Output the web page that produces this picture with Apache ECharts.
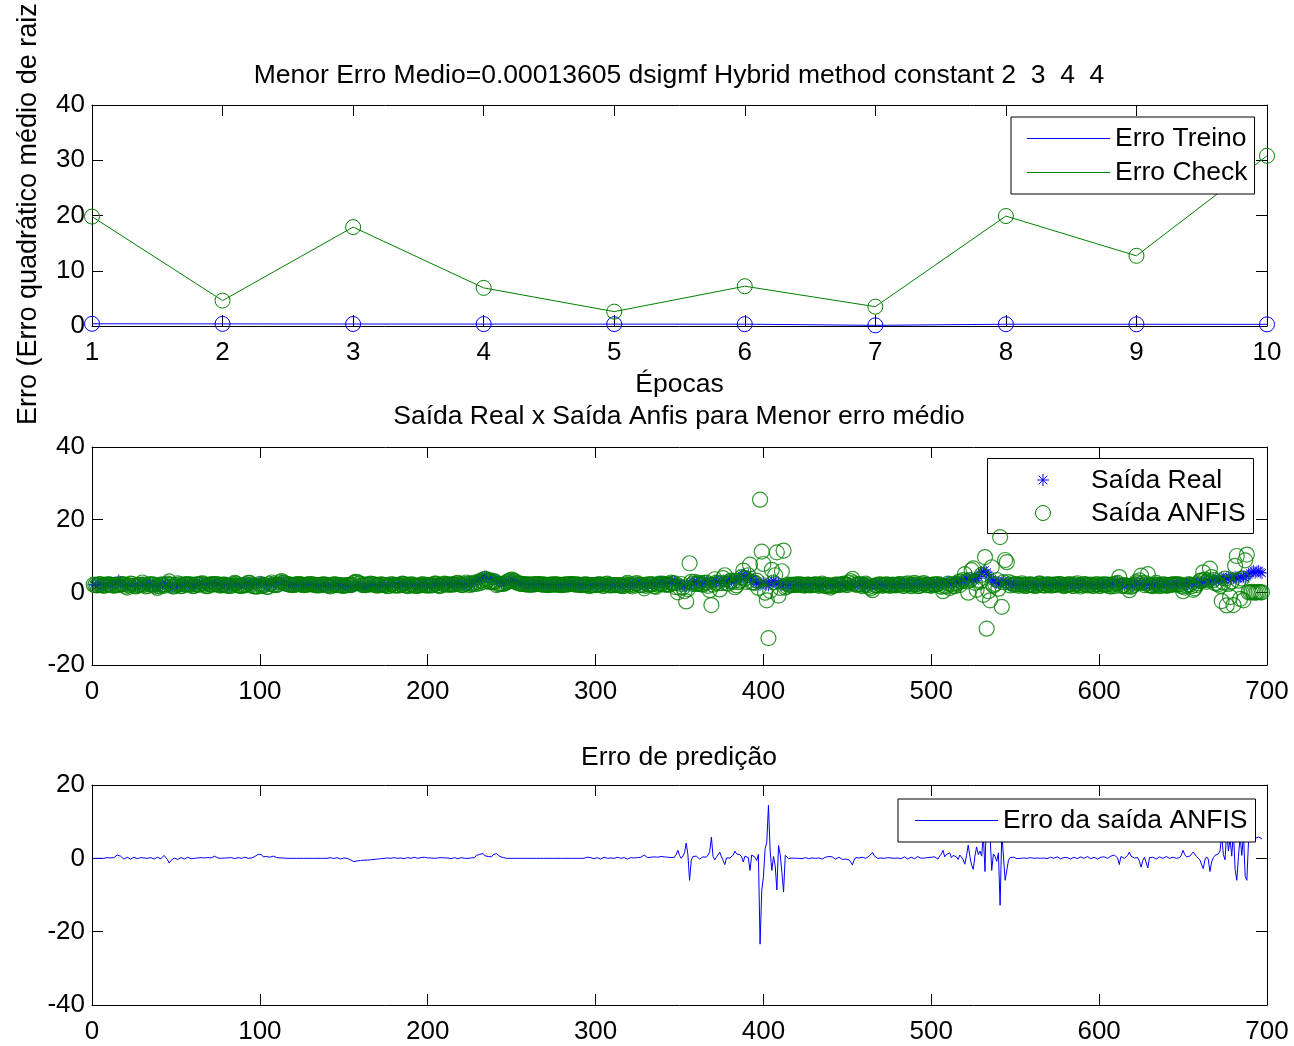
<!DOCTYPE html>
<html>
<head>
<meta charset="utf-8">
<title>Erro ANFIS</title>
<script src="https://cdn.jsdelivr.net/npm/echarts@6/dist/echarts.min.js"></script>
<style>
  html, body { margin: 0; padding: 0; background: #fff; }
  #main { width: 1294px; height: 1046px; }
</style>
</head>
<body>
<div id="main"></div>
<script>
// ---- dados ----
var epocas = [1, 2, 3, 4, 5, 6, 7, 8, 9, 10];
var erroTreino = [0.40, 0.38, 0.36, 0.35, 0.34, 0.33, 0.12, 0.32, 0.31, 0.30];
var erroCheck = [19.8, 4.6, 17.9, 6.9, 2.6, 7.2, 3.5, 19.9, 12.7, 30.8];

// saida real (amostras 1..697)
var saidaReal = [
2.1,2.0,1.9,2.2,2.3,2.0,1.8,1.9,2.4,2.6,2.2,1.9,2.0,2.5,2.9,3.3,2.8,2.3,2.0,1.7,
1.6,1.9,2.2,2.4,2.1,1.8,1.7,2.0,2.3,2.5,2.2,1.9,1.8,2.1,2.4,2.2,1.9,1.6,1.5,1.8,
2.0,2.3,2.6,2.4,2.0,1.7,1.5,1.4,1.7,2.0,2.2,2.1,1.9,1.8,2.0,2.3,2.5,2.3,2.0,1.9,
1.8,2.0,2.2,2.4,2.6,2.5,2.2,2.0,1.9,2.1,2.3,2.6,2.8,2.6,2.3,2.1,1.9,2.0,2.2,2.1,
1.9,1.8,2.0,2.3,2.5,2.4,2.1,1.9,1.8,2.0,2.2,2.4,2.6,2.5,2.2,2.0,2.1,2.4,2.7,2.9,
2.8,2.5,2.2,2.0,2.3,2.6,2.8,2.7,2.4,2.2,2.5,2.9,3.1,2.8,2.5,2.3,2.2,2.1,2.0,2.0,
2.1,2.2,2.3,2.2,2.1,2.0,2.0,2.1,2.2,2.3,2.2,2.1,2.0,1.9,1.9,2.0,2.1,2.2,2.1,2.0,
1.9,1.8,1.9,2.1,2.3,2.2,2.0,1.8,1.7,1.9,2.1,2.0,1.8,1.6,1.5,1.7,1.9,2.1,2.0,1.8,
1.6,1.5,1.4,1.6,1.8,2.0,2.1,1.9,1.8,1.7,1.9,2.1,2.2,2.0,1.9,1.8,2.0,2.2,2.3,2.1,
2.0,1.9,2.1,2.3,2.4,2.2,2.0,1.9,2.0,2.2,2.3,2.1,1.9,1.8,2.0,2.2,2.4,2.3,2.1,2.0,
1.9,2.0,2.2,2.4,2.3,2.1,2.0,2.1,2.3,2.5,2.4,2.2,2.1,2.0,2.2,2.4,2.6,2.5,2.3,2.2,
2.1,2.3,2.5,2.4,2.3,2.5,2.7,2.9,3.1,3.3,3.6,3.9,4.2,4.4,4.3,4.0,3.7,3.5,3.8,3.6,
3.3,3.0,2.8,2.6,2.5,2.6,2.8,3.0,3.3,3.5,3.3,3.0,2.7,2.5,2.4,2.3,2.3,2.2,2.2,2.1,
2.1,2.1,2.2,2.2,2.3,2.3,2.2,2.2,2.1,2.1,2.0,2.0,2.1,2.1,2.2,2.2,2.1,2.1,2.0,2.0,
2.1,2.1,2.2,2.2,2.3,2.3,2.2,2.2,2.1,2.1,2.0,2.0,2.1,2.2,2.4,2.3,2.1,2.0,1.9,2.1,
2.3,2.2,2.0,1.9,2.1,2.3,2.4,2.2,2.0,1.9,2.0,2.2,2.3,2.1,1.9,1.8,2.0,2.2,2.4,2.3,
2.1,2.0,2.2,2.5,2.7,2.6,2.3,2.1,2.0,2.2,2.4,2.6,2.5,2.3,2.1,2.2,2.4,2.6,2.8,2.7,
2.5,2.3,2.4,2.6,2.9,3.1,2.8,2.4,2.2,2.1,2.3,2.0,1.8,1.7,1.9,2.0,2.4,2.8,3.1,2.9,
2.6,2.4,2.3,2.5,2.8,3.0,2.7,2.4,2.3,2.6,3.2,3.0,2.7,2.5,2.9,3.3,3.0,2.6,2.8,3.2,
3.5,3.8,3.4,3.1,3.6,4.2,4.6,5.0,4.4,3.8,4.9,4.3,3.6,3.2,2.9,2.6,2.3,2.1,2.4,2.8,
2.5,2.2,1.9,2.4,2.9,3.2,2.7,2.4,2.6,2.2,2.0,2.3,2.1,1.9,2.0,2.2,2.1,1.9,2.0,2.2,
2.3,2.1,2.0,1.9,2.1,2.2,2.0,1.9,2.1,2.3,2.2,2.0,1.9,2.0,2.2,2.1,2.0,2.2,2.4,2.3,
2.1,2.0,1.9,2.1,2.3,2.2,2.0,1.8,1.9,2.1,2.2,2.1,1.9,2.0,2.3,2.5,2.3,2.1,2.0,2.2,
2.4,2.3,2.1,2.0,2.2,2.3,2.1,1.9,2.0,2.2,2.1,2.0,2.1,2.3,2.2,2.0,1.9,2.0,2.1,2.2,
2.3,2.1,2.0,2.2,2.4,2.3,2.1,2.0,2.2,2.5,2.4,2.2,2.0,2.1,2.3,2.6,2.4,2.2,2.0,2.1,
2.3,2.5,2.3,2.1,2.4,2.7,2.5,2.2,2.6,2.9,2.7,2.4,2.6,3.0,2.8,2.5,2.9,3.3,3.0,3.4,
3.8,3.5,3.9,4.3,3.6,3.2,3.8,4.4,4.9,5.4,5.8,6.1,5.5,4.8,4.2,3.6,3.1,2.8,2.6,2.5,
2.4,2.8,3.2,2.9,2.6,2.3,2.1,2.2,2.4,2.3,2.1,2.0,2.1,2.3,2.2,2.0,1.9,2.1,2.3,2.2,
2.0,1.9,2.1,2.3,2.4,2.2,2.0,1.9,2.1,2.3,2.2,2.0,2.1,2.3,2.5,2.4,2.2,2.0,1.9,2.1,
2.3,2.2,2.0,1.9,2.1,2.3,2.4,2.2,2.0,2.1,2.3,2.5,2.4,2.2,2.0,1.9,2.1,2.2,2.0,1.9,
2.1,2.3,2.5,2.3,2.1,2.0,2.2,2.4,2.6,2.8,2.7,2.5,2.3,2.1,2.0,2.2,2.4,2.3,2.1,2.0,
2.2,2.5,2.7,2.5,2.2,2.0,2.3,2.6,2.4,2.1,1.9,2.0,2.2,2.4,2.3,2.1,2.0,2.2,2.4,2.3,
2.1,2.0,2.2,2.5,2.4,2.2,2.1,2.3,2.6,2.5,2.3,2.2,2.4,2.7,2.6,2.4,2.3,2.5,2.8,2.7,
2.5,2.7,3.0,3.3,3.1,2.9,3.2,3.6,3.3,3.0,3.4,3.8,4.1,3.7,3.4,3.9,4.3,4.0,3.6,3.9,
4.3,4.0,3.7,4.2,4.6,4.3,3.9,4.4,4.8,5.2,5.6,5.9,5.4,5.7,5.9,5.5,5.3
];

// saida ANFIS (amostras 1..697)
var saidaAnfis = [
2.1,2.0,1.9,2.2,2.3,2.0,1.8,1.9,2.2,2.2,2.1,2.0,1.8,2.0,2.0,2.1,2.2,2.2,2.2,1.6,
1.3,1.9,2.4,2.3,1.8,1.6,1.8,2.0,2.1,2.7,2.1,1.6,1.8,2.2,2.2,2.1,2.1,1.6,1.2,1.7,
2.1,2.1,1.8,2.1,2.4,3.0,2.1,1.6,1.6,2.0,2.5,2.2,1.7,1.8,2.2,2.2,2.2,2.2,2.1,1.7,
1.8,2.2,2.1,2.1,2.4,2.5,2.1,1.7,1.7,2.1,2.2,2.2,2.2,2.3,2.2,1.9,1.9,2.1,2.1,1.9,
1.8,1.8,1.8,2.2,2.6,2.4,1.9,1.8,1.8,1.9,1.9,2.2,2.6,2.6,2.1,1.7,1.6,1.6,1.6,2.3,
1.8,2.1,2.0,1.5,1.5,2.3,2.7,2.1,2.0,2.0,2.2,2.8,3.1,2.7,2.5,2.3,2.2,2.1,2.0,2.0,
2.1,2.2,2.3,2.2,2.1,2.0,2.0,2.1,2.2,2.3,2.2,2.1,2.0,1.9,1.9,2.0,2.1,2.2,2.1,2.0,
1.8,1.6,1.9,2.2,2.2,2.0,2.0,2.0,1.8,1.8,1.9,2.0,2.0,2.0,2.1,2.6,2.9,2.8,2.5,2.4,
2.0,2.0,2.1,2.1,2.1,2.4,2.3,2.2,1.9,1.9,1.9,2.2,2.1,2.0,2.0,1.7,1.8,2.2,2.2,1.9,
1.9,1.9,1.9,2.2,2.4,2.3,1.9,1.7,1.9,2.2,2.1,1.8,1.8,1.8,1.9,2.0,2.3,2.0,1.9,1.9,
1.9,1.9,2.0,2.4,2.4,2.0,1.7,1.9,2.3,2.4,2.2,2.1,2.1,2.1,2.2,2.2,2.5,2.6,2.3,2.0,
2.0,2.3,2.7,2.4,2.0,2.4,2.2,2.7,2.3,2.9,2.5,3.3,2.9,3.7,3.1,3.5,2.8,3.1,2.8,3.0,
2.0,2.2,2.3,2.3,2.3,2.5,2.8,3.0,3.3,3.5,3.3,3.0,2.7,2.5,2.4,2.3,2.3,2.2,2.2,2.1,
2.1,2.1,2.2,2.2,2.3,2.3,2.2,2.2,2.1,2.1,2.0,2.0,2.1,2.1,2.2,2.2,2.1,2.1,2.0,2.0,
2.1,2.1,2.2,2.2,2.3,2.3,2.2,2.2,2.1,2.1,2.0,2.0,2.1,2.2,2.1,1.7,1.9,2.0,2.0,2.0,
2.1,2.2,2.2,1.8,1.8,2.2,2.4,2.0,1.9,2.0,2.0,2.0,2.0,2.0,1.9,1.7,1.8,2.2,2.6,2.2,
1.9,1.6,2.1,2.5,2.5,2.0,2.0,2.0,1.1,1.8,2.2,2.1,2.2,2.2,1.7,1.5,2.1,2.4,2.3,2.4,
2.1,2.2,2.1,2.1,2.7,2.5,2.5,1.4,0.0,1.3,2.3,1.4,0.3,-2.5,0.9,8.0,2.9,2.3,2.9,2.3,
2.3,2.6,2.2,2.1,2.6,2.7,1.8,0.6,-3.5,2.1,3.6,2.7,2.5,0.8,2.5,3.9,4.7,2.5,2.4,3.1,
3.2,2.9,1.4,1.9,2.8,3.2,4.2,6.0,3.8,2.9,4.7,7.6,2.7,2.7,2.6,3.2,1.2,25.5,11.2,7.8,
-0.1,-2.2,-12.6,0.4,6.2,2.7,4.7,11.0,-0.9,1.2,5.8,11.5,1.3,1.6,2.1,2.0,2.0,2.1,2.0,2.1,
2.3,2.0,2.1,1.9,1.9,2.1,2.1,1.9,2.0,2.1,2.2,2.1,1.8,2.0,2.4,2.0,1.7,2.0,1.9,1.3,
1.7,1.9,2.1,2.1,2.0,2.1,2.3,2.4,2.1,2.0,2.6,3.1,3.7,2.5,2.1,2.1,2.2,2.2,1.7,2.0,
2.4,2.0,1.5,1.1,0.6,1.6,1.9,1.9,2.2,2.1,1.8,2.0,2.2,2.1,1.8,1.9,2.1,2.0,1.9,2.1,
2.3,2.2,1.8,1.8,2.3,2.5,2.1,1.7,2.1,2.6,2.2,1.7,1.8,2.1,2.5,2.5,2.0,2.0,2.0,1.8,
2.1,2.1,2.2,2.3,1.8,1.5,0.3,1.8,1.6,2.4,1.2,2.2,1.8,1.7,2.4,2.8,2.0,3.0,3.4,5.0,
3.0,-0.1,3.4,6.1,6.6,2.6,0.7,3.4,2.9,4.8,-0.7,9.7,-10.0,0.3,-2.2,6.9,1.9,2.3,3.4,1.0,
15.2,-4.0,2.8,8.9,8.3,2.8,1.9,2.5,2.1,2.2,2.2,1.8,2.1,2.5,2.1,1.7,1.9,2.2,2.1,2.1,
2.0,1.7,2.0,2.4,2.4,2.0,1.9,1.9,2.2,2.2,1.9,1.9,2.1,2.1,2.1,2.3,2.3,2.0,1.7,2.0,
2.1,2.2,2.2,1.8,1.8,2.2,2.5,2.0,1.6,2.0,2.3,2.2,1.9,2.0,2.1,1.8,1.8,2.2,2.2,1.8,
1.8,2.2,2.1,2.1,2.1,1.7,1.6,2.2,1.7,2.4,2.6,4.2,1.8,1.9,2.0,1.8,1.6,0.6,1.5,1.8,
2.1,2.8,2.5,3.3,4.6,2.6,2.0,2.5,5.0,1.9,1.9,1.7,2.1,2.6,2.1,1.7,1.9,2.2,2.1,1.8,
1.9,2.0,2.1,2.2,2.2,2.2,2.2,2.1,1.7,0.3,1.3,1.8,2.2,2.1,1.7,0.7,1.1,2.0,2.5,3.1,
3.3,5.5,3.5,2.9,3.3,6.5,4.2,3.4,2.5,2.6,2.2,1.8,-2.4,2.7,3.8,-3.6,2.3,-1.3,3.0,-3.5,
7.3,10.0,3.2,-1.8,3.8,-2.2,8.8,10.4,0.0,0.0,0.1,0.0,-0.1,0.0,0.1,0.0,0.0
];

// erro de predicao (amostras 1..697)
var erroPredicao = [
0,0,0,0,0,0,0,0,0.2,0.4,0.1,-0.1,0.2,0.5,0.9,1.2,0.6,0.1,-0.2,0.1,
0.3,0.0,-0.2,0.1,0.3,0.2,-0.1,0.0,0.2,-0.2,0.1,0.3,0.0,-0.1,0.2,0.1,-0.2,0.0,0.3,0.1,
-0.1,0.2,0.8,0.3,-0.4,-1.3,-0.6,-0.2,0.1,0.0,-0.3,-0.1,0.2,0.0,-0.2,0.1,0.3,0.1,-0.1,0.2,
0.0,-0.2,0.1,0.3,0.2,0.0,0.1,0.3,0.2,0.0,0.1,0.4,0.6,0.3,0.1,0.2,0.0,-0.1,0.1,0.2,
0.1,0.0,0.2,0.1,-0.1,0.0,0.2,0.1,0.0,0.1,0.3,0.2,0.0,-0.1,0.1,0.3,0.5,0.8,1.1,0.6,
1.0,0.4,0.2,0.5,0.8,0.3,0.1,0.6,0.4,0.2,0.3,0.1,0.0,0.1,0.0,0,0,0,0,0,
0,0,0,0,0,0,0,0,0,0,0,0,0,0,0,0,0,0,0,0,
0.1,0.2,0.0,-0.1,0.1,0.2,0.0,-0.2,-0.1,0.1,0.2,0.0,-0.2,-0.4,-0.6,-0.9,-1.0,-0.7,-0.5,-0.6,
-0.4,-0.5,-0.7,-0.5,-0.3,-0.4,-0.2,-0.3,-0.1,-0.2,0.0,-0.1,0.1,0.0,-0.1,0.1,0.2,0.0,0.1,0.2,
0.1,0.0,0.2,0.1,0.0,-0.1,0.1,0.2,0.1,0.0,0.2,0.3,0.1,0.0,0.1,0.2,0.1,0.3,0.2,0.1,
0.0,0.1,0.2,0.0,-0.1,0.1,0.3,0.2,0.0,0.1,0.2,0.1,0.0,-0.1,0.0,0.2,0.1,-0.1,0.0,0.2,
0.1,0.0,-0.2,0.0,0.3,0.1,0.5,0.2,0.8,0.4,1.1,0.6,1.3,0.7,1.2,0.5,0.9,0.4,1.0,0.6,
1.3,0.8,0.5,0.3,0.2,0.1,0,0,0,0,0,0,0,0,0,0,0,0,0,0,
0,0,0,0,0,0,0,0,0,0,0,0,0,0,0,0,0,0,0,0,
0,0,0,0,0,0,0,0,0,0,0,0,0,0,0.3,0.6,0.2,0.0,-0.1,0.1,
0.2,0.0,-0.2,0.1,0.3,0.1,0.0,0.2,0.1,-0.1,0.0,0.2,0.3,0.1,0.0,0.1,0.2,0.0,-0.2,0.1,
0.2,0.4,0.1,0.0,0.2,0.6,0.3,0.1,0.9,0.4,0.2,0.5,0.3,0.1,0.4,0.7,0.3,0.2,0.5,0.3,
0.4,0.1,0.3,0.5,0.2,0.6,0.3,1.0,2.2,0.8,0.0,0.6,1.5,4.2,1.0,-6.0,-0.5,0.5,0.2,0.6,
0.3,-0.2,0.1,0.4,0.2,0.3,0.9,1.8,5.8,0.5,-0.4,0.3,0.2,1.7,0.4,-0.6,-1.7,0.1,0.4,0.1,
0.3,0.9,2.0,1.2,0.8,1.0,0.4,-1.0,0.6,0.9,0.2,-3.3,0.9,0.5,0.3,-0.6,1.1,-23.4,-8.8,-5.0,
2.6,4.4,14.5,2.0,-3.3,0.5,-2.0,-8.6,3.5,1.0,-3.8,-9.2,0.8,0.3,-0.1,0.2,0.1,-0.2,0.0,0.1,
0.0,0.1,-0.1,0.0,0.2,0.1,-0.1,0.0,0.1,0.2,0.0,-0.1,0.1,0.0,-0.2,0.1,0.3,0.2,0.5,1.0,
0.4,0.1,-0.2,0.0,0.3,0.1,-0.3,-0.6,-0.2,0.1,-0.4,-1.0,-1.8,-0.5,0.2,0.4,0.1,-0.1,0.3,0.2,
0.0,0.3,0.6,0.9,1.6,0.7,0.2,0.0,-0.2,0.1,0.3,0.0,-0.1,0.2,0.4,0.1,-0.2,0.0,0.2,0.1,
0.0,-0.1,0.2,0.4,0.1,-0.2,0.0,0.3,0.1,-0.1,0.2,0.5,0.2,0.0,-0.2,0.1,0.4,0.2,0.0,0.3,
0.2,0.4,0.1,-0.2,0.6,1.2,2.2,0.4,1.0,0.5,1.5,0.2,0.8,1.3,0.4,-0.3,0.9,0.3,-0.4,-1.6,
0.8,3.6,0.5,-1.8,-3.0,0.6,3.1,1.0,2.0,0.6,6.5,-3.6,15.5,4.5,6.4,-3.3,1.2,0.5,-0.8,1.5,
-12.8,6.8,0.4,-6.0,-5.7,-0.5,0.2,-0.3,0.3,0.1,-0.1,0.2,0.0,-0.2,0.1,0.3,0.0,-0.1,0.2,0.1,
0.0,0.2,0.1,-0.1,0.0,0.2,0.1,0.0,-0.1,0.1,0.3,0.1,0.0,0.2,0.4,0.1,-0.1,0.0,0.2,0.1,
0.2,0.0,-0.2,0.1,0.3,0.1,-0.1,0.2,0.4,0.1,0.0,0.3,0.5,0.2,-0.1,0.1,0.3,0.0,-0.2,0.1,
0.3,0.1,0.4,0.2,0.0,0.3,0.6,0.2,0.9,0.4,0.1,-1.7,0.5,0.2,0.0,0.4,0.8,1.7,0.6,0.2,
0.1,-0.3,0.2,-0.8,-2.4,-0.6,0.3,0.1,-2.6,0.2,0.0,0.3,0.1,-0.2,0.2,0.4,0.1,0.0,0.3,0.5,
0.2,0.0,0.1,0.3,0.2,0.0,-0.1,0.2,0.9,2.2,1.0,0.4,0.2,0.6,0.9,1.7,1.2,0.5,0.3,-0.4,
-0.8,-2.8,-0.5,0.4,-0.2,-3.6,-1.0,0.2,0.8,0.4,1.2,2.0,6.5,1.0,-0.4,7.5,2.0,5.3,0.6,7.4,
-3.0,-6.0,0.5,6.0,0.8,6.5,-4.9,-6.0,4.8,5.2,5.5,5.9,5.5,5.7,5.8,5.5,5.3
];

var titulos = [
  'Menor Erro Medio=0.00013605 dsigmf Hybrid method constant 2  3  4  4',
  'Saída Real x Saída Anfis para Menor erro médio',
  'Erro de predição'
];

var FONTE = '"Liberation Sans", Arial, Helvetica, sans-serif';
var AZUL = '#0000ff';
var VERDE = '#008000';
var ASTERISCO = 'path://M0,5L10,5M5,0L5,10M1.5,1.5L8.5,8.5M8.5,1.5L1.5,8.5';

function pares(arr, xs) {
  return arr.map(function (v, i) { return [xs ? xs[i] : i + 1, v]; });
}

// eixos com marcas para dentro, caixa fechada como no MATLAB
function eixoBase(grid, min, max, passo) {
  return {
    gridIndex: grid, type: 'value', min: min, max: max, interval: passo,
    axisLine: { show: true, onZero: false, lineStyle: { color: '#000', width: 1 } },
    axisTick: { show: true, inside: true, length: 11, lineStyle: { color: '#000' } },
    splitLine: { show: false }
  };
}

function eixosX(grid, min, max, passo, nome) {
  var baixo = Object.assign(eixoBase(grid, min, max, passo), {
    position: 'bottom',
    axisLabel: { margin: 14, fontSize: 26, color: '#000', fontFamily: FONTE }
  });
  if (nome) {
    baixo.name = nome;
    baixo.nameLocation = 'middle';
    baixo.nameGap = 45;
    baixo.nameTextStyle = { fontSize: 26.5, color: '#000', fontFamily: FONTE };
  }
  var cima = Object.assign(eixoBase(grid, min, max, passo), { position: 'top', axisLabel: { show: false } });
  return [baixo, cima];
}

function eixosY(grid, min, max, passo) {
  var esq = Object.assign(eixoBase(grid, min, max, passo), {
    position: 'left',
    axisLabel: { margin: 7, fontSize: 26, color: '#000', fontFamily: FONTE }
  });
  var dir = Object.assign(eixoBase(grid, min, max, passo), { position: 'right', axisLabel: { show: false } });
  return [esq, dir];
}

function legenda(left, top, padding, itens) {
  return {
    orient: 'vertical', left: left, top: top, padding: padding,
    itemWidth: 83, itemHeight: 1, itemGap: 7,
    backgroundColor: '#fff', borderColor: '#000', borderWidth: 1,
    selectedMode: false, z: 20,
    textStyle: { fontSize: 26.5, color: '#000', fontFamily: FONTE },
    data: itens
  };
}

// asterisco da legenda do segundo grafico, feito com 4 segmentos
function asteriscoLegenda(cx, cy, r) {
  var d = r * 0.7;
  var segs = [[-r, 0, r, 0], [0, -r, 0, r], [-d, -d, d, d], [d, -d, -d, d]];
  return segs.map(function (s) {
    return {
      type: 'line',
      shape: { x1: cx + s[0], y1: cy + s[1], x2: cx + s[2], y2: cy + s[3] },
      style: { stroke: AZUL, lineWidth: 1 }
    };
  });
}

var chart = echarts.init(document.getElementById('main'));

var textoLeg = { font: '26.5px "Liberation Sans", Arial, sans-serif', fill: '#000', verticalAlign: 'middle', align: 'left' };

var option = {
  animation: false,
  backgroundColor: '#fff',
  title: titulos.map(function (t, i) {
    return {
      text: t, left: 679, top: [62, 403, 744][i], textAlign: 'center', padding: 0,
      textStyle: { fontSize: 26.5, fontWeight: 'normal', color: '#000', fontFamily: FONTE }
    };
  }),
  grid: [
    { left: 92, right: 27, top: 105, height: 221, outerBoundsMode: 'none' },
    { left: 92, right: 27, top: 447, height: 218, outerBoundsMode: 'none' },
    { left: 92, right: 27, top: 785, height: 220, outerBoundsMode: 'none' }
  ],
  xAxis: [].concat(
    eixosX(0, 1, 10, 1, 'Épocas'),
    eixosX(1, 0, 700, 100),
    eixosX(2, 0, 700, 100)
  ),
  yAxis: [].concat(
    eixosY(0, 0, 40, 10),
    eixosY(1, -20, 40, 20),
    eixosY(2, -40, 20, 20)
  ),
  legend: [
    legenda(1011, 117, [8, 7, 8, 16], [
      { name: 'Erro Treino', icon: 'rect', itemStyle: { color: AZUL, borderWidth: 0 } },
      { name: 'Erro Check', icon: 'rect', itemStyle: { color: VERDE, borderWidth: 0 } }
    ]),
    legenda(898, 799, [8, 8, 8, 17], [
      { name: 'Erro da saída ANFIS', icon: 'rect', itemStyle: { color: AZUL, borderWidth: 0 } }
    ])
  ],
  graphic: [
    {
      type: 'text', x: 29, y: 425, rotation: Math.PI / 2,
      style: {
        text: 'Erro (Erro quadrático médio de raiz', fill: '#000',
        font: '27px "Liberation Sans", Arial, sans-serif', align: 'left', verticalAlign: 'middle'
      }
    },
    // legenda do segundo grafico (so marcadores)
    {
      type: 'group', z: 50, children: [
        { type: 'rect', shape: { x: 987.5, y: 458.5, width: 266, height: 75 },
          style: { fill: '#fff', stroke: '#000', lineWidth: 1 } },
        { type: 'circle', shape: { cx: 1043, cy: 513, r: 7.5 },
          style: { fill: 'none', stroke: VERDE, lineWidth: 1 } },
        { type: 'text', x: 1091, y: 481, style: Object.assign({ text: 'Saída Real' }, textoLeg) },
        { type: 'text', x: 1091, y: 514, style: Object.assign({ text: 'Saída ANFIS' }, textoLeg) }
      ].concat(asteriscoLegenda(1043, 480, 6))
    }
  ],
  series: [
    {
      name: 'Erro Treino', type: 'line', xAxisIndex: 0, yAxisIndex: 0,
      data: pares(erroTreino, epocas),
      symbol: 'circle', symbolSize: 15, showSymbol: true,
      lineStyle: { color: AZUL, width: 1 },
      itemStyle: { color: 'transparent', borderColor: AZUL, borderWidth: 1 }
    },
    {
      name: 'Erro Check', type: 'line', xAxisIndex: 0, yAxisIndex: 0,
      data: pares(erroCheck, epocas),
      symbol: 'circle', symbolSize: 15, showSymbol: true,
      lineStyle: { color: VERDE, width: 1 },
      itemStyle: { color: 'transparent', borderColor: VERDE, borderWidth: 1 }
    },
    {
      name: 'Saída Real', type: 'scatter', xAxisIndex: 2, yAxisIndex: 2,
      data: pares(saidaReal), symbol: ASTERISCO, symbolSize: 12,
      itemStyle: { color: 'transparent', borderColor: AZUL, borderWidth: 1 }
    },
    {
      name: 'Saída ANFIS', type: 'scatter', xAxisIndex: 2, yAxisIndex: 2,
      data: pares(saidaAnfis), symbol: 'circle', symbolSize: 15,
      itemStyle: { color: 'transparent', borderColor: VERDE, borderWidth: 1.2 }
    },
    {
      name: 'Erro da saída ANFIS', type: 'line', xAxisIndex: 4, yAxisIndex: 4,
      data: pares(erroPredicao), showSymbol: false, symbol: 'none',
      lineStyle: { color: AZUL, width: 1 },
      itemStyle: { color: AZUL }
    }
  ]
};

chart.setOption(option);
</script>
</body>
</html>
